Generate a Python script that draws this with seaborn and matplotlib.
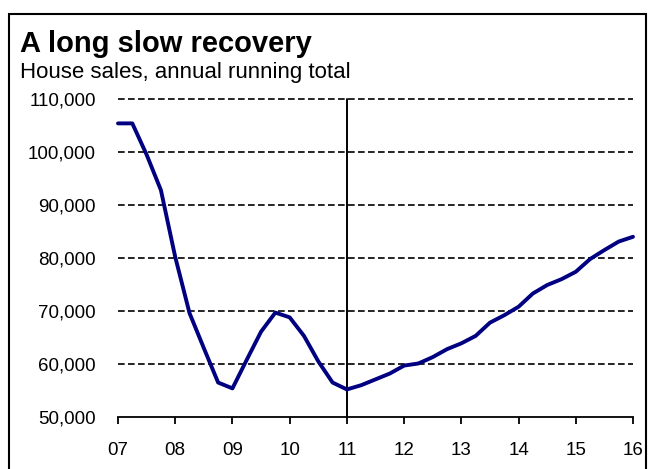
import numpy as np
import pandas as pd
import matplotlib
matplotlib.use("Agg")
import matplotlib.pyplot as plt
from matplotlib.patches import Rectangle
import seaborn as sns

# quarterly house sales, annual running total
quarters = pd.period_range("2007Q1", "2016Q1", freq="Q")
sales = [105400, 105400, 99500, 92800,
         80200, 69600, 63000, 56500,
         55400, 60800, 66100, 69700,
         68800, 65300, 60500, 56500,
         55200, 56000, 57100, 58200,
         59700, 60100, 61300, 62800,
         63900, 65300, 67800, 69200,
         70800, 73300, 74900, 76000,
         77400, 79800, 81500, 83100,
         84000]
year_ticks = [7, 8, 9, 10, 11, 12, 13, 14, 15, 16]
year_labels = ["07", "08", "09", "10", "11", "12", "13", "14", "15", "16"]
y_ticks = [50000, 60000, 70000, 80000, 90000, 100000, 110000]

df = pd.DataFrame({"t": quarters.year - 2000 + (quarters.quarter - 1) / 4,
                   "sales": sales})

sns.set_style("white")
plt.rcParams["font.family"] = ["Liberation Sans", "DejaVu Sans"]
plt.rcParams["text.color"] = "black"

fig = plt.figure(figsize=(6.48, 4.69), dpi=100)
ax = fig.add_axes([118/648, 1-417/469, (633-118)/648, (417-99)/469])

# dashed gridlines (drawn by hand so the top one isn't clipped)
for v in y_ticks[1:]:
    ax.axhline(v, color="black", linestyle=(0, (4.0, 2.0)), linewidth=1.2,
               zorder=1, clip_on=False)
ax.axvline(11, color="black", linewidth=1.4, zorder=2)

sns.lineplot(data=df, x="t", y="sales", color="#000080", linewidth=2.8, ax=ax, zorder=3)
for ln in ax.lines:
    ln.set_clip_on(False)

ax.set_xlim(7, 16)
ax.set_ylim(50000, 110000)
ax.set_xticks(year_ticks)
ax.set_xticklabels(year_labels)
ax.set_yticks(y_ticks)
ax.set_yticklabels([f"{v:,}" for v in y_ticks])
ax.set_xlabel("")
ax.set_ylabel("")
ax.grid(False)

for s in ["top", "right", "left"]:
    ax.spines[s].set_visible(False)
ax.spines["bottom"].set_color("black")
ax.spines["bottom"].set_linewidth(1.3)

ax.tick_params(axis="x", direction="out", length=5, width=1.3, color="black",
               pad=13, labelsize=13.5, labelcolor="black", bottom=True)
ax.tick_params(axis="y", length=0, pad=16, labelsize=13.5, labelcolor="black")

fig.text(20/648, 1-52/469, "A long slow recovery", fontsize=21, fontweight="bold",
         color="black", ha="left", va="baseline")
fig.text(20/648, 1-78/469, "House sales, annual running total", fontsize=16,
         color="black", ha="left", va="baseline")

fig.add_artist(Rectangle((9/648, -0.2), (646-9)/648, 1.2-14/469,
                         transform=fig.transFigure, fill=False,
                         edgecolor="black", linewidth=1.5, clip_on=False))

fig.savefig("out.png", dpi=100)
